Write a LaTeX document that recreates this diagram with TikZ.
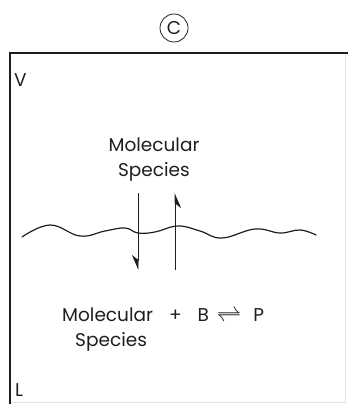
\documentclass[tikz,border=0pt]{standalone}
\usepackage{fontspec}
\setmainfont{Poppins}
\usepackage{tikz}
\usetikzlibrary{arrows.meta,positioning}
\definecolor{ink}{RGB}{30,30,30}
\definecolor{faint}{RGB}{225,225,225}

\begin{document}
\begin{tikzpicture}[x=1pt,y=-1pt,>={Stealth[right,length=14pt,width=12pt]},
    lbl/.style={font=\fontsize{18.5}{20}\selectfont,text=ink,inner sep=0pt}]
  \useasboundingbox (0,0) rectangle (348,406);
  % ---------------- panel tag ------------------------
  \node[lbl,draw=ink,circle,minimum size=28pt,line width=0.8pt] (tag) at (174,28) {C};
  % ---------------- the box: V on top, L below ------------------------
  \draw[faint,line width=0.8pt] (345,53) -- (345,402) -- (10,402);
  \draw[ink,line width=1.2pt] (10,404) -- (10,53) -- (348,53);
  \node[lbl,anchor=west] (vap) at (14,80) {V};
  \node[lbl,anchor=west] (liq) at (15,390) {L};
  % interface, drawn wavy
  \draw[ink,line width=1.2pt,line cap=round] plot[smooth,tension=0.7] coordinates
    {(22,237) (50,225) (80,236) (105,231) (125,228) (138,233) (155,232)
     (178,226) (200,231) (222,238) (255,229) (280,233) (300,230) (316,235)};
  % ---------------- species names ------------------------
  \node[lbl] (gasA) at (154,145) {Molecular};
  \node[lbl] (gasB) at (154,172) {Species};
  \node[lbl,anchor=west] (liqA) at (62,315) {Molecular\hspace{16pt}+\hspace{16pt}B\hspace{8pt}{\fontsize{26}{26}\selectfont$\rightleftharpoons$}\hspace{12pt}P};
  \node[lbl,anchor=west] (liqB) at (75,342) {Species};
  % transfer across the surface
  \coordinate (inTop) at (138,193);
  \coordinate (inBot) at (138,270);
  \coordinate (outBot) at (175,270);
  \coordinate (outTop) at (175,193);
  \draw[->,ink,line width=0.8pt] (inTop) -- (inBot);
  \draw[->,ink,line width=0.8pt] (outBot) -- (outTop);
\end{tikzpicture}
\end{document}
